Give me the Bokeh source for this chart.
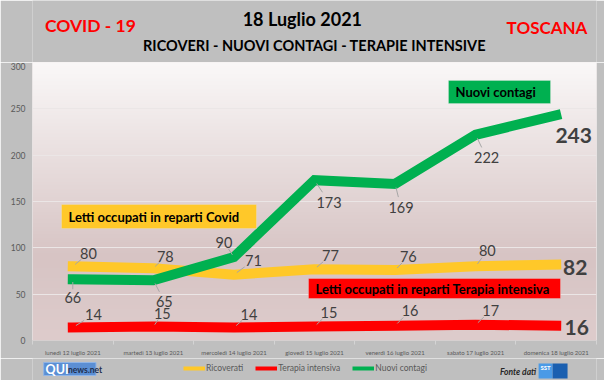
from bokeh.plotting import figure
from bokeh.layouts import column
from bokeh.models import (FixedTicker, Label, BoxAnnotation, Legend, LegendItem, Range1d)
from bokeh.core.properties import value
from bokeh.embed import file_html
from bokeh.resources import INLINE
import numpy as np

# ---------------- data ----------------
days = ["lunedì 12 luglio 2021", "martedì 13 luglio 2021", "mercoledì 14 luglio 2021",
        "giovedì 15 luglio 2021", "venerdì 16 luglio 2021", "sabato 17 luglio 2021",
        "domenica 18 luglio 2021"]
ricoverati = [80, 78, 71, 77, 76, 80, 82]
terapia = [14, 15, 14, 15, 16, 17, 16]
contagi = [66, 65, 90, 173, 169, 222, 243]
y_ticks = [0, 50, 100, 150, 200, 250, 300]
series_names = ["Ricoverati", "Terapia intensiva", "Nuovi contagi"]

# ---------------- style ----------------
FONT = "Lato"
YEL, RED, GRN = "#ffc829", "#ff0000", "#00b050"
LBL = "#404040"
GREY = "#bfbfbf"
W = 604
FL, FR, FT, FB = 32, 596, 62, 340  # frame edges in page px
PAGE_TOP = 0
HEAD_H = FT - PAGE_TOP
BOT_B = 16
PAGE_BOTTOM = 380
FOOT_H = PAGE_BOTTOM - FB - BOT_B


def px2x(px):
    return -0.5 + (px - FL) * 7 / (FR - FL)


def py2y(py):
    return (FB - py) * 300 / (FB - FT)


def plain(h, y0, y1):
    f = figure(width=W, height=h, x_range=Range1d(0, W), y_range=Range1d(y1, y0),
               x_axis_type=None, y_axis_type=None, output_backend="svg", toolbar_location=None,
               min_border=0)
    f.border_fill_color = GREY
    f.background_fill_color = GREY
    f.outline_line_color = None
    return f


# ---------------- header ----------------
head = plain(HEAD_H, PAGE_TOP, FT)
titles = [
    ("COVID - 19", 62, 25, "17.5px", "#ff0000"),
    ("18 Luglio 2021", 289, 18, "18px", "#000000"),
    ("RICOVERI - NUOVI CONTAGI - TERAPIE INTENSIVE", 302, 45, "14.5px", "#000000"),
    ("TOSCANA", 551, 27, "17px", "#ff0000"),
]
for txt, tx, ty, fs, col in titles:
    head.text(x=[tx], y=[ty], text=[txt], text_align="center", text_baseline="middle",
              text_font=value(FONT), text_font_size=fs, text_font_style="bold", text_color=col)

# ---------------- main chart ----------------
p = figure(frame_width=FR - FL, frame_height=FB - FT,
           x_range=Range1d(-0.5, 6.5), y_range=Range1d(0, 300),
           output_backend="svg", toolbar_location=None,
           min_border_left=FL, min_border_right=W - FR, min_border_top=0,
           min_border_bottom=BOT_B)
p.border_fill_color = GREY
p.background_fill_color = "#efe8e8"
p.outline_line_color = None

# gradient plot area
N = 280
t = np.linspace(0, 1, N)
stops_t = [0.0, 0.3, 1.0]
cols = np.array([[222, 204, 204], [215, 196, 196], [250, 248, 248]], dtype=float)
img = np.empty((N, 1), dtype=np.uint32)
view = img.view(dtype=np.uint8).reshape((N, 1, 4))
for c in range(3):
    view[:, 0, c] = np.interp(t, stops_t, cols[:, c]).astype(np.uint8)
view[:, 0, 3] = 255
p.image_rgba(image=[img], x=-0.5, y=0, dw=7, dh=300, level="image")

# grid & axes
p.xgrid.grid_line_color = None
p.ygrid.ticker = FixedTicker(ticks=y_ticks)
p.ygrid.grid_line_color = "#ebe6e6"

p.yaxis.ticker = FixedTicker(ticks=y_ticks)
p.yaxis.axis_line_color = None
p.yaxis.major_tick_line_color = None
p.yaxis.major_tick_out = 0
p.yaxis.minor_tick_line_color = None
p.yaxis.minor_tick_out = 0
p.yaxis.major_label_standoff = 7
p.yaxis.major_label_text_font = FONT
p.yaxis.major_label_text_font_size = "8.5px"
p.yaxis.major_label_text_color = "#595959"

p.xaxis.ticker = FixedTicker(ticks=list(range(7)), minor_ticks=[i - 0.5 for i in range(8)])
p.xaxis.major_label_overrides = {i: d for i, d in enumerate(days)}
p.xaxis.axis_line_color = "#d6d0d0"
p.xaxis.major_tick_line_color = None
p.xaxis.major_tick_out = 0
p.xaxis.minor_tick_in = 0
p.xaxis.minor_tick_out = 4
p.xaxis.minor_tick_line_color = "#d4d4d4"
p.xaxis.major_label_standoff = 4
p.xaxis.major_label_text_font = FONT
p.xaxis.major_label_text_font_size = "6px"
p.xaxis.major_label_text_color = "#595959"

x = list(range(len(days)))

# lines
for vals, col in [(ricoverati, YEL), (terapia, RED), (contagi, GRN)]:
    p.line(x, vals, line_width=10, line_color=col, line_cap="square", line_join="miter")

# label offsets (screen px), positions only
off_ric = [(15.7, -12.9), (12, -11.7), (19.5, -14.2), (16, -13.6), (13.3, -13.6), (11.7, -15.9)]
off_ter = [(20.6, -13), (9, -13), (15, -13), (14.5, -14), (15, -15), (15, -14)]
off_con = [(0, 18), (11, 21), (-10, -15), (14.5, 22), (6, 24), (11, 23)]
off_last = [(19, 3), (20.5, 2), (17.5, 20)]

XS = 7 / (FR - FL)
YS = 300 / (FB - FT)
lx0, ly0, lx1, ly1 = [], [], [], []
for vals, offs in [(ricoverati, off_ric), (terapia, off_ter), (contagi, off_con)]:
    for i in range(len(offs)):
        dx, dy = offs[i]
        f0, f1 = 0.15, 0.55
        lx0.append(x[i] + f0 * dx * XS)
        ly0.append(vals[i] - f0 * dy * YS)
        lx1.append(x[i] + f1 * dx * XS)
        ly1.append(vals[i] - f1 * dy * YS)
p.segment(lx0, ly0, lx1, ly1, line_color="#a6a6a6", line_width=1)

for vals, offs in [(ricoverati, off_ric), (terapia, off_ter), (contagi, off_con)]:
    n = len(offs)
    p.text(x=x[:n], y=vals[:n], text=[str(v) for v in vals[:n]],
           x_offset=[o[0] for o in offs], y_offset=[o[1] for o in offs],
           text_align="center", text_baseline="middle",
           text_font=value(FONT), text_font_size="14.5px", text_color=LBL)

last_vals = [ricoverati[-1], terapia[-1], contagi[-1]]
p.text(x=[x[-1]] * 3, y=last_vals, text=[str(v) for v in last_vals],
       x_offset=[o[0] for o in off_last], y_offset=[o[1] for o in off_last],
       text_align="center", text_baseline="middle",
       text_font=value(FONT), text_font_size="21px", text_font_style="bold", text_color=LBL)

# callout boxes
boxes = [
    ("Letti occupati in reparti Covid", YEL, (61, 256, 204, 228), 68),
    ("Letti occupati in reparti Terapia intensiva", RED, (308, 560, 278, 298), 315),
    ("Nuovi contagi", GRN, (448, 550, 80, 103), 455),
]
for txt, col, (l, r, tp, bt), tx in boxes:
    p.add_layout(BoxAnnotation(left=px2x(l), right=px2x(r), top=py2y(tp), bottom=py2y(bt),
                               fill_color=col, fill_alpha=1, line_color="#e6e6e6", line_width=1,
                               level="annotation"))
    p.add_layout(Label(x=px2x(tx), y=py2y((tp + bt) / 2), text=txt, text_align="left",
                       text_baseline="middle", text_font=FONT, text_font_size="13px",
                       text_font_style="bold", text_color="#000000"))

# ---------------- footer ----------------
FY0 = FB + BOT_B
foot = plain(FOOT_H, FY0, PAGE_BOTTOM)
foot.quad(left=[12], right=[68], top=[360], bottom=[373], fill_color="#5b8fd4",
          line_color="#8fb4e6", line_width=1)
foot.text(x=[14], y=[366.5], text=["QUI"], text_align="left", text_baseline="middle",
          text_font=value(FONT), text_font_size="12.5px", text_font_style="bold",
          text_color="#ffffff")
foot.text(x=[38], y=[367.5], text=["news.net"], text_align="left", text_baseline="middle",
          text_font=value(FONT), text_font_size="8.5px", text_font_style="bold",
          text_color="#1f2f4f")
foot.text(x=[520], y=[369], text=["Fonte dati"], text_align="center",
          text_baseline="middle", text_font=value(FONT), text_font_size="8.5px",
          text_font_style="bold italic", text_color="#262626")
foot.quad(left=[542, 557], right=[557, 573], top=[361, 361], bottom=[376, 376],
          fill_color=["#4a9ae6", "#1a5fb0"], line_color=None)
foot.text(x=[549.5], y=[365], text=["SST"], text_align="center", text_baseline="middle",
          text_font=value(FONT), text_font_size="6px", text_font_style="bold",
          text_color="#ffffff")

# legend samples: thin lines held off-canvas, shown only through the legend
dummies = [foot.line(x=[-60, -50], y=[400, 400], line_width=4, line_color=c)
           for c in (YEL, RED, GRN)]
legend = Legend(items=[LegendItem(label=n, renderers=[r]) for n, r in zip(series_names, dummies)],
                orientation="horizontal", location=(151, PAGE_BOTTOM - 371),
                background_fill_alpha=0, border_line_color=None,
                label_text_font=FONT, label_text_font_size="8.5px", label_text_color="#595959",
                glyph_width=22, glyph_height=8, label_height=10, label_width=10,
                label_standoff=1, spacing=12, padding=0, margin=0)
foot.add_layout(legend)

layout = column(head, p, foot, spacing=0)
open("out.html", "w").write(file_html(layout, INLINE))
